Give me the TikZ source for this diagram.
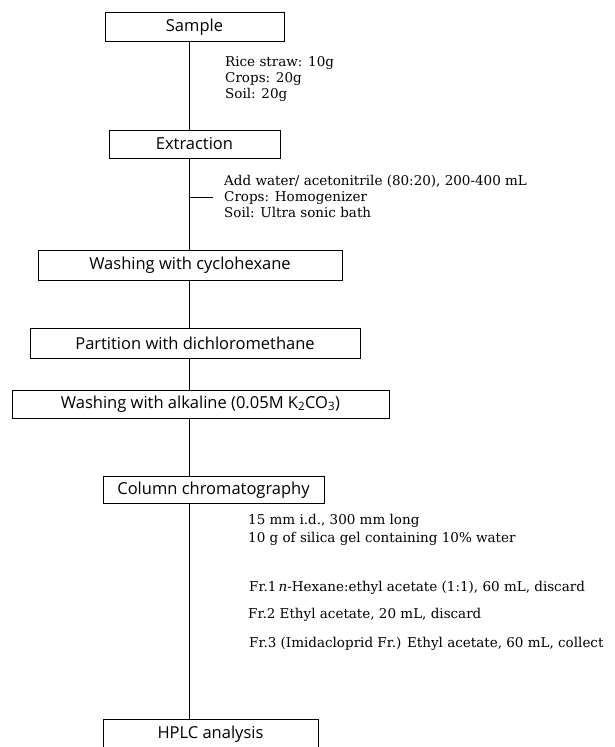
\documentclass[tikz,border=0pt]{standalone}
\usepackage{amsmath}
\usepackage{fontspec}
\newfontfamily\boxfont{Open Sans}
\newfontfamily\notefont{DejaVu Serif}
\usepackage{tikz}
\usetikzlibrary{positioning,calc}

\begin{document}
\begin{tikzpicture}[
x=1pt, y=-1pt,
stepbox/.style={draw, thick, inner sep=0pt, minimum height=29pt, font=\fontsize{16.5}{18}\boxfont},
note/.style={anchor=north west, align=left, inner sep=0pt, font=\fontsize{13.5}{16}\notefont},
line/.style={thick}
]
\useasboundingbox (0,0) rectangle (615,747);
\coordinate (spine) at (189,0);
% boxes
\node[stepbox, minimum width=179pt] (sample) at (194.5,27) {Sample};
\node[stepbox, minimum width=171pt, minimum height=28pt] (extraction) at (194.5,144) {Extraction};
\node[stepbox, minimum width=304pt, minimum height=30pt] (cyclo) at (190,265) {Washing with cyclohexane};
\node[stepbox, minimum width=330pt, minimum height=30pt] (partition) at (195,343) {Partition with dichloromethane};
\node[stepbox, minimum width=377pt, minimum height=28pt] (alkaline) at (200.5,404) {Washing with alkaline (0.05M K\textsubscript{2}CO\textsubscript{3})};
\node[stepbox, minimum width=221pt, minimum height=27pt] (column) at (213.5,490) {Column chromatography};
\node[stepbox, minimum width=215pt, minimum height=30pt, anchor=north] (hplc) at (210.5,719) {HPLC analysis};
% notes
\node[note] (samplenote) at (225,56) {Rice straw: 10g\\Crops: 20g\\Soil: 20g};
\node[note] (extractnote) at (224,175) {Add water/ acetonitrile (80:20), 200-400 mL\\Crops: Homogenizer\\Soil: Ultra sonic bath};
\node[note] (columnnote) at (248,514) {15 mm i.d., 300 mm long\\[2pt]10 g of silica gel containing 10\% water};
\node[note] (fr1) at (249,581) {Fr.1\,\textit{n}-Hexane:ethyl acetate (1:1), 60 mL, discard};
\node[note] (fr2) at (248,608) {Fr.2 Ethyl acetate, 20 mL, discard};
\node[note] (fr3) at (249,637) {Fr.3 (Imidacloprid Fr.) Ethyl acetate, 60 mL, collect};
% connectors
\draw[line] (spine |- sample.south) -- (spine |- extraction.north);
\draw[line] (spine |- extraction.south) -- (spine |- cyclo.north);
\draw[line] (spine |- cyclo.south) -- (spine |- partition.north);
\draw[line] (spine |- partition.south) -- (spine |- alkaline.north);
\draw[line] (spine |- alkaline.south) -- (spine |- column.north);
\draw[line] (spine |- column.south) -- (spine |- hplc.north);
\draw[line] ($(spine |- extractnote.west)+(0,1)$) -- ++(24,0);
\end{tikzpicture}
\end{document}
